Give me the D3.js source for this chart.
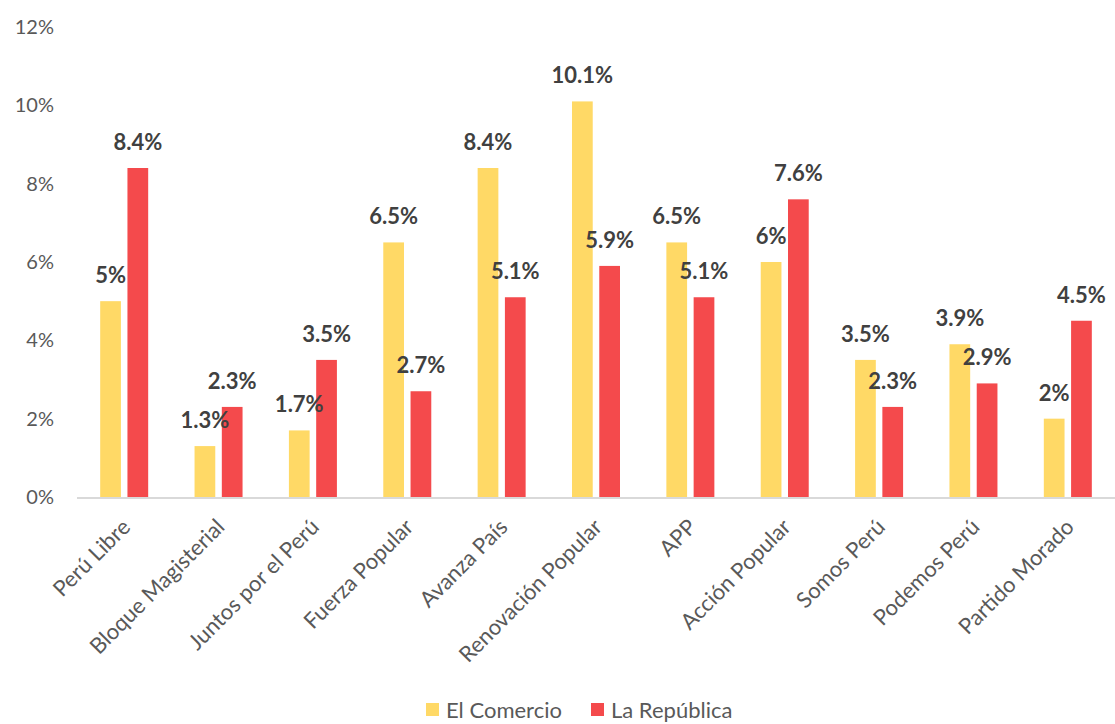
<!DOCTYPE html>
<meta charset="utf-8">
<head>
    <title></title>
    <script src="https://cdn.jsdelivr.net/npm/d3@7"></script>
</head>
<style>
    body{ margin:0; background:#fff; }
    text{ font-family: Lato, "Liberation Sans", sans-serif; }
</style>
<svg width="1115" height="724"></svg>
<script>
    var parties = ['Perú Libre','Bloque Magisterial','Juntos por el Perú','Fuerza Popular','Avanza País',
                   'Renovación Popular','APP','Acción Popular','Somos Perú','Podemos Perú','Partido Morado'],
        elComercio = [5, 1.3, 1.7, 6.5, 8.4, 10.1, 6.5, 6, 3.5, 3.9, 2],
        laRepublica = [8.4, 2.3, 3.5, 2.7, 5.1, 5.9, 5.1, 7.6, 2.3, 2.9, 4.5],
        seriesNames = ['El Comercio','La República'],
        yTicks = [0, 2, 4, 6, 8, 10, 12];

    var colors = ['#FFD966','#F44A4C'];

    var svg = d3.select('svg'),
        plotLeft = 77, plotRight = 1115, plotTop = 27, plotBottom = 497;

    var x = d3.scaleBand().domain(parties).range([plotLeft, plotRight]);
    var sub = d3.scaleBand().domain(seriesNames).range([x.bandwidth()/2 - 24, x.bandwidth()/2 + 24]).paddingInner(0.24);
    var y = d3.scaleLinear().domain([0, 12]).range([plotBottom, plotTop]);

    // y labels
    svg.append('g').selectAll('text').data(yTicks).enter().append('text')
        .attr('x', 54).attr('y', function(d){ return y(d); })
        .attr('dy', '0.35em').attr('text-anchor','end')
        .style('font-size','20px').style('fill','#595959')
        .text(function(d){ return d + '%'; });

    var rows = parties.map(function(p, i){
        return [{s: 0, v: elComercio[i], p: p}, {s: 1, v: laRepublica[i], p: p}];
    });

    var groups = svg.append('g').selectAll('g').data(rows).enter().append('g')
        .attr('transform', function(d){ return 'translate(' + x(d[0].p) + ',0)'; });

    groups.selectAll('rect').data(function(d){ return d; }).enter().append('rect')
        .attr('x', function(d){ return sub(seriesNames[d.s]); })
        .attr('width', sub.bandwidth())
        .attr('y', function(d){ return y(d.v); })
        .attr('height', function(d){ return plotBottom - y(d.v); })
        .style('fill', function(d){ return colors[d.s]; });

    groups.selectAll('text').data(function(d){ return d; }).enter().append('text')
        .attr('x', function(d){ return sub(seriesNames[d.s]) + sub.bandwidth()/2; })
        .attr('y', function(d){ return y(d.v) - 18; })
        .attr('text-anchor','middle')
        .style('font-size','22px').style('font-weight','bold').style('fill','#404040')
        .text(function(d){ return d.v + '%'; });

    // baseline
    svg.append('line').attr('x1', plotLeft).attr('x2', plotRight).attr('y1', plotBottom + 1).attr('y2', plotBottom + 1)
        .style('stroke','#d9d9d9').style('stroke-width', 2);

    // x labels
    svg.append('g').selectAll('text').data(parties).enter().append('text')
        .attr('transform', function(d){ return 'translate(' + (x(d) + x.bandwidth()/2 + 2) + ',' + (plotBottom + 26) + ') rotate(-45)'; })
        .attr('text-anchor','end').attr('dy','0.35em')
        .style('font-size','22px').style('fill','#595959')
        .text(function(d){ return d; });

    // legend
    var legend = svg.append('g').selectAll('g').data(seriesNames).enter().append('g')
        .attr('transform', function(d, i){ return 'translate(' + [426, 591][i] + ',703)'; });
    legend.append('rect').attr('width', 13).attr('height', 13)
        .style('fill', function(d, i){ return colors[i]; });
    legend.append('text').attr('x', 20).attr('y', 7).attr('dy','0.35em')
        .style('font-size','22px').style('fill','#595959')
        .text(function(d){ return d; });
</script>
